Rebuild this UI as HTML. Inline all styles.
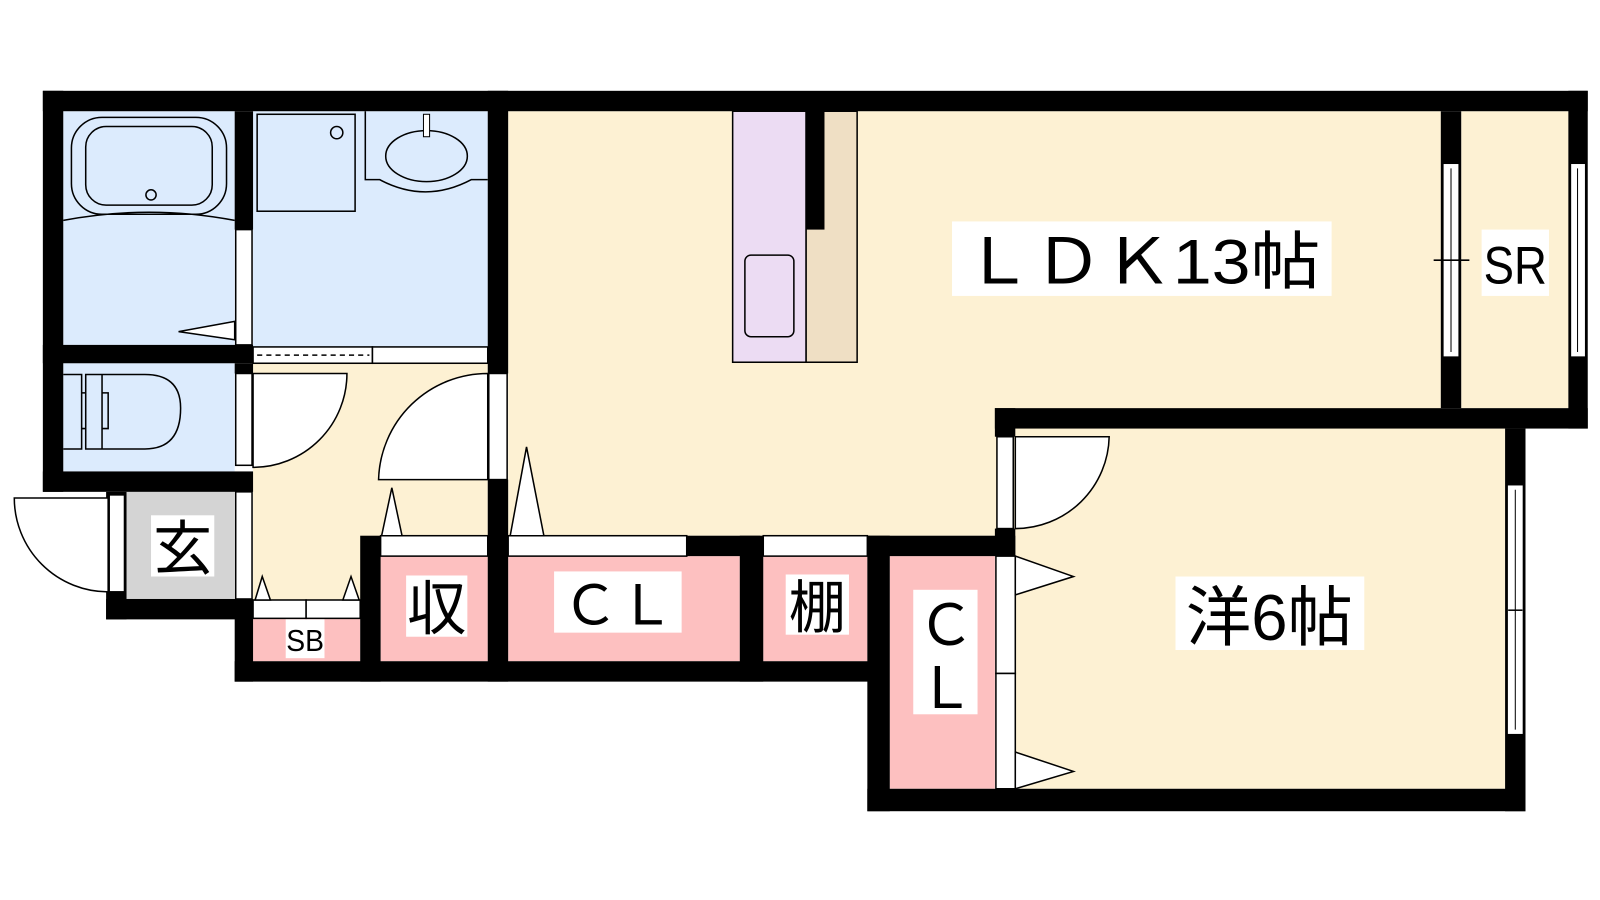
<!DOCTYPE html>
<html><head><meta charset="utf-8"><style>
html,body{margin:0;padding:0;background:#fff;}
svg{display:block}
text{font-family:"Liberation Sans","Noto Sans CJK JP",sans-serif;fill:#000}
</style></head><body>
<svg width="1600" height="900" viewBox="0 0 1600 900" xmlns="http://www.w3.org/2000/svg">
<g transform="scale(1.0204)">
<!-- floors -->
<rect x="62" y="109" width="168" height="229" fill="#dcebfd"/>
<rect x="248" y="109" width="230" height="231" fill="#dcebfd"/>
<rect x="62" y="356" width="168" height="106" fill="#dcebfd"/>
<rect x="248" y="356" width="230" height="232" fill="#fdf1d3"/>
<rect x="124" y="482" width="106" height="105" fill="#d4d4d4"/>
<rect x="248" y="588" width="105" height="60" fill="#fdc0c0"/>
<rect x="373" y="545" width="105" height="103" fill="#fdc0c0"/>
<rect x="498" y="545" width="227" height="103" fill="#fdc0c0"/>
<rect x="748" y="545" width="102" height="103" fill="#fdc0c0"/>
<rect x="872" y="545" width="103" height="228" fill="#fdc0c0"/>
<rect x="498" y="109" width="914" height="416" fill="#fdf1d3"/>
<rect x="995" y="420" width="480" height="353" fill="#fdf1d3"/>
<rect x="1432" y="109" width="105" height="291" fill="#fdf1d3"/>
<!-- kitchen -->
<rect x="718" y="109" width="72" height="246" fill="#ecdcf3" stroke="#000" stroke-width="1.5"/>
<rect x="790" y="109" width="50" height="246" fill="#efdfc4" stroke="#000" stroke-width="1.5"/>
<rect x="730" y="250" width="48" height="80" rx="6" fill="none" stroke="#000" stroke-width="1.5"/>
<rect x="790" y="109" width="18" height="116" fill="#000"/>
<!-- bath fixtures -->
<rect x="70" y="115" width="152" height="95" rx="30" fill="none" stroke="#000" stroke-width="1.5"/>
<rect x="84" y="124" width="124" height="77" rx="20" fill="none" stroke="#000" stroke-width="1.5"/>
<circle cx="148" cy="191" r="5" fill="none" stroke="#000" stroke-width="1.5"/>
<path d="M62 216 Q146 200 230 216" fill="none" stroke="#000" stroke-width="1.5"/>
<polygon points="230,315 175,325 230,333" fill="#fff" stroke="#000" stroke-width="1.5"/>
<rect x="252" y="112" width="96" height="95" fill="none" stroke="#000" stroke-width="1.5"/>
<circle cx="330" cy="130" r="6" fill="none" stroke="#000" stroke-width="1.5"/>
<path d="M358 109 V176 H372 Q417 200 462 176 H478" fill="none" stroke="#000" stroke-width="1.5"/>
<ellipse cx="418" cy="153" rx="40" ry="25" fill="none" stroke="#000" stroke-width="1.5"/>
<rect x="415" y="112" width="6" height="22" fill="#fff" stroke="#000" stroke-width="1"/>
<path d="M62 367 H80 V440 H62 M84 367 H142 Q177 367 177 400 Q177 440 142 440 H84 Z M100 367 V440 M80 385 H84 M80 420 H84 M100 385 H106 V420 H100" fill="none" stroke="#000" stroke-width="1.5"/>
<!-- walls -->
<g fill="#000">
<rect x="42" y="89" width="1514" height="20"/>
<rect x="42" y="89" width="20" height="393"/>
<rect x="230" y="109" width="18" height="116"/>
<rect x="42" y="338" width="206" height="18"/>
<rect x="42" y="462" width="206" height="20"/>
<rect x="230" y="356" width="18" height="10"/>
<rect x="478" y="89" width="20" height="277"/>
<rect x="478" y="470" width="20" height="198"/>
<rect x="104" y="482" width="20" height="125"/>
<rect x="104" y="587" width="144" height="20"/>
<rect x="230" y="587" width="18" height="81"/>
<rect x="230" y="648" width="640" height="20"/>
<rect x="353" y="525" width="20" height="143"/>
<rect x="673" y="525" width="72" height="20"/>
<rect x="725" y="525" width="23" height="143"/>
<rect x="850" y="525" width="145" height="20"/>
<rect x="850" y="525" width="22" height="270"/>
<rect x="850" y="773" width="645" height="22"/>
<rect x="975" y="400" width="20" height="28"/>
<rect x="975" y="518" width="20" height="27"/>
<rect x="975" y="400" width="581" height="20"/>
<rect x="1475" y="420" width="20" height="375"/>
<rect x="1412" y="109" width="20" height="291"/>
<rect x="1537" y="89" width="19" height="331"/>
</g>
<!-- white openings / strips -->
<g fill="#fff" stroke="#000" stroke-width="1.5">
<rect x="231" y="225" width="16" height="113"/>
<rect x="231" y="366" width="16" height="90"/>
<rect x="231" y="482" width="16" height="105"/>
<rect x="479" y="366" width="18" height="104"/>
<rect x="107" y="485" width="15" height="95"/>
<rect x="248" y="588" width="52" height="18"/><rect x="300" y="588" width="53" height="18"/>
<rect x="373" y="525" width="105" height="20"/>
<rect x="498" y="525" width="175" height="20"/>
<rect x="748" y="525" width="102" height="20"/>
<rect x="977" y="428" width="16" height="90"/>
<rect x="976" y="545" width="19" height="115"/><rect x="976" y="660" width="19" height="113"/>
<rect x="1414" y="160" width="16" height="190"/>
<rect x="1539" y="160" width="15" height="190"/>
<rect x="1477" y="475" width="16" height="245"/>
<rect x="248" y="340" width="117" height="16"/><rect x="365" y="340" width="113" height="16"/>
</g>
<line x1="252" y1="348" x2="362" y2="348" stroke="#000" stroke-width="1.5" stroke-dasharray="5,4"/>
<line x1="1422" y1="165" x2="1422" y2="345" stroke="#000"/>
<line x1="1546" y1="165" x2="1546" y2="345" stroke="#000"/>
<line x1="1485" y1="480" x2="1485" y2="715" stroke="#000"/>
<line x1="1405" y1="255" x2="1440" y2="255" stroke="#000" stroke-width="1.5"/>
<line x1="1478" y1="598" x2="1492" y2="598" stroke="#000" stroke-width="1.5"/>
<!-- doors -->
<g fill="#fff" stroke="#000" stroke-width="1.5">
<path d="M248 366 H340 A92 92 0 0 1 248 458 Z"/>
<path d="M478 366 V470 H371 A107 107 0 0 1 478 366 Z"/>
<path d="M106 488 V580 A92 92 0 0 1 14 488 Z"/>
<path d="M995 428 H1087 A92 92 0 0 1 995 518 Z"/>
<polygon points="374,525 384,478 394,525"/>
<polygon points="500,525 516,438 533,525"/>
<polygon points="250,588 257,565 265,588"/>
<polygon points="336,588 344,565 352,588"/>
<polygon points="995,545 1052,565 995,583"/>
<polygon points="995,737 1052,756 995,773"/>
</g>
<!-- labels -->
<g fill="#fff">
<rect x="933" y="217" width="372" height="73"/>
<rect x="1452" y="225" width="66" height="65"/>
<rect x="1152" y="565" width="185" height="72"/>
<rect x="895" y="578" width="63" height="122"/>
<rect x="770" y="563" width="62" height="59"/>
<rect x="543" y="560" width="125" height="60"/>
<rect x="398" y="564" width="60" height="60"/>
<rect x="148" y="505" width="62" height="60"/>
<rect x="280" y="607" width="38" height="38"/>
</g>
<text x="1119" y="278" font-size="62" text-anchor="middle" textLength="350" lengthAdjust="spacingAndGlyphs">ＬＤＫ13帖</text>
<text x="1485" y="278" font-size="52" text-anchor="middle" textLength="62" lengthAdjust="spacingAndGlyphs">SR</text>
<text x="1244" y="627" font-size="64" text-anchor="middle">洋6帖</text>
<text x="927" y="632" font-size="56" text-anchor="middle">Ｃ</text>
<text x="927" y="694" font-size="56" text-anchor="middle">Ｌ</text>
<text x="801" y="615" font-size="56" text-anchor="middle">棚</text>
<text x="606" y="612" font-size="54" text-anchor="middle" textLength="110" lengthAdjust="spacingAndGlyphs">ＣＬ</text>
<text x="428" y="617" font-size="58" text-anchor="middle">収</text>
<text x="179" y="558" font-size="58" text-anchor="middle">玄</text>
<text x="299" y="638" font-size="30" text-anchor="middle" textLength="37" lengthAdjust="spacingAndGlyphs">SB</text>
</g>
</svg>
</body></html>
